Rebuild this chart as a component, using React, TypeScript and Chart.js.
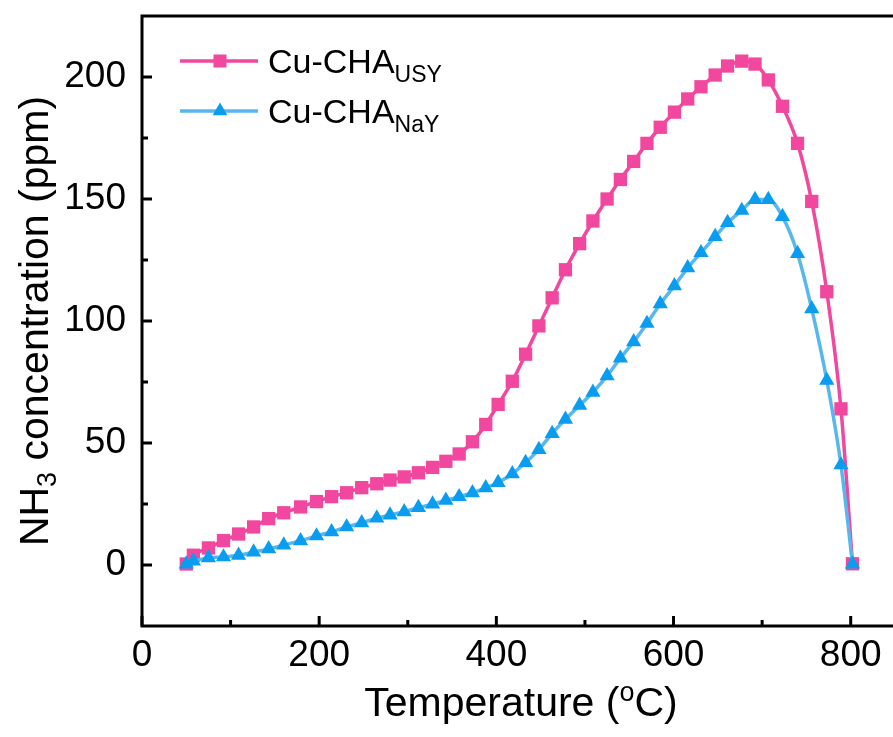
import { useEffect, useRef } from "react";
import { Chart, registerables } from "chart.js";

Chart.register(...registerables);

// ---- data ----
const temperatures = [
  50, 58, 75, 92, 109, 126, 143, 160, 179, 197, 214, 231, 248, 265, 280, 296,
  312, 328, 343, 358, 373, 388, 402, 418, 433, 448, 463, 478, 494, 509, 525,
  540, 555, 570, 585, 601, 616, 631, 647, 661, 677, 692, 707, 723, 740, 756,
  773, 789, 802,
];
const concUSY = [
  0.4, 4, 7, 10, 12.7, 15.6, 19, 21.4, 23.8, 26, 28, 29.6, 31.7, 33.3, 34.8,
  36.1, 37.8, 40, 42.5, 45.5, 50.5, 57.6, 65.8, 75.3, 86.4, 98, 109.5, 121,
  131.7, 141, 150, 158, 165.4, 172.8, 179.4, 185.6, 191, 196, 200.8, 204.5,
  206.5, 205.3, 198.8, 188, 172.8, 149, 112, 64, 0.5,
];
const concNaY = [
  0.4, 1.6, 2.9, 3.3, 4, 5.3, 6.6, 8.2, 9.9, 11.9, 13.6, 15.6, 17.3, 19.2,
  20.5, 21.8, 23.5, 25, 26.5, 28, 29.6, 31.6, 33.8, 37.4, 42, 47.3, 53.9, 59.7,
  65.4, 70.8, 77.5, 84.8, 91.5, 99, 107, 114.4, 121.8, 128, 134.6, 140.3,
  145.3, 149.8, 149.8, 142.8, 127.6, 105, 75.7, 41, 0.4,
];
const seriesBase = ["Cu-CHA", "Cu-CHA"];
const seriesSub = ["USY", "NaY"];
const xTicks = [0, 200, 400, 600, 800];
const xMinorTicks = [100, 300, 500, 700];
const yTicks = [0, 50, 100, 150, 200];
const yMinorTicks = [25, 75, 125, 175];

const FONT = '"Liberation Sans", Arial, Helvetica, sans-serif';
const PINK = "#F2479F";
const BLUE_LINE = "#58B7EC";
const BLUE_MARK = "#0A9DEF";

function drawRich(
  ctx: CanvasRenderingContext2D,
  parts: { t: string; size: number; dy: number }[],
  x: number,
  y: number,
  align: "left" | "center"
) {
  let total = 0;
  for (const p of parts) {
    ctx.font = `${p.size}px ${FONT}`;
    total += ctx.measureText(p.t).width;
  }
  let cx = align === "center" ? x - total / 2 : x;
  ctx.textAlign = "left";
  ctx.textBaseline = "alphabetic";
  for (const p of parts) {
    ctx.font = `${p.size}px ${FONT}`;
    ctx.fillText(p.t, cx, y + p.dy);
    cx += ctx.measureText(p.t).width;
  }
}

const decorPlugin = {
  id: "decor",
  afterDraw(chart: any) {
    const { ctx, chartArea: a, scales } = chart;
    const xs = scales.x;
    const ys = scales.y;
    ctx.save();
    ctx.strokeStyle = "#000";
    ctx.fillStyle = "#000";
    ctx.lineCap = "butt";
    // frame
    ctx.lineWidth = 3;
    ctx.strokeRect(a.left, a.top, a.right - a.left, a.bottom - a.top);
    // inner ticks
    const seg = (x1: number, y1: number, x2: number, y2: number) => {
      ctx.beginPath();
      ctx.moveTo(x1, y1);
      ctx.lineTo(x2, y2);
      ctx.stroke();
    };
    ctx.lineWidth = 3;
    xTicks.forEach((v) => {
      const p = xs.getPixelForValue(v);
      seg(p, a.bottom, p, a.bottom - 10);
    });
    xMinorTicks.forEach((v) => {
      const p = xs.getPixelForValue(v);
      seg(p, a.bottom, p, a.bottom - 6);
    });
    yTicks.forEach((v) => {
      const p = ys.getPixelForValue(v);
      seg(a.left, p, a.left + 10, p);
    });
    yMinorTicks.forEach((v) => {
      const p = ys.getPixelForValue(v);
      seg(a.left, p, a.left + 6, p);
    });

    // x title
    drawRich(
      ctx,
      [
        { t: "Temperature (", size: 41, dy: 0 },
        { t: "o", size: 27, dy: -15 },
        { t: "C)", size: 41, dy: 0 },
      ],
      521,
      716,
      "center"
    );

    // y title (rotated)
    ctx.save();
    ctx.translate(48, (a.top + a.bottom) / 2);
    ctx.rotate(-Math.PI / 2);
    drawRich(
      ctx,
      [
        { t: "NH", size: 41, dy: 0 },
        { t: "3", size: 27, dy: 8 },
        { t: " concentration (ppm)", size: 41, dy: 0 },
      ],
      0,
      0,
      "center"
    );
    ctx.restore();

    // legend
    const legendRows = [
      { y: 61, line: PINK, mark: PINK, shape: "rect" },
      { y: 111, line: BLUE_LINE, mark: BLUE_MARK, shape: "tri" },
    ];
    legendRows.forEach((r, i) => {
      ctx.strokeStyle = r.line;
      ctx.lineWidth = 3.5;
      seg(180, r.y, 258, r.y);
      ctx.fillStyle = r.mark;
      if (r.shape === "rect") {
        ctx.fillRect(220 - 6.5, r.y - 6.5, 13, 13);
      } else {
        const rr = 8.5;
        ctx.beginPath();
        ctx.moveTo(220, r.y - rr);
        ctx.lineTo(220 + rr * Math.sin((2 * Math.PI) / 3), r.y + rr / 2);
        ctx.lineTo(220 - rr * Math.sin((2 * Math.PI) / 3), r.y + rr / 2);
        ctx.closePath();
        ctx.fill();
      }
      ctx.fillStyle = "#000";
      drawRich(
        ctx,
        [
          { t: seriesBase[i], size: 34, dy: 0 },
          { t: seriesSub[i], size: 23, dy: 9 },
        ],
        268,
        r.y + 12,
        "left"
      );
    });
    ctx.restore();
  },
};

export default function App() {
  const ref = useRef<HTMLCanvasElement | null>(null);
  useEffect(() => {
    if (!ref.current) return;
    const toPts = (ys: number[]) => temperatures.map((x, i) => ({ x, y: ys[i] }));
    const chart = new Chart(ref.current, {
      type: "line",
      data: {
        datasets: [
          {
            label: seriesBase[0] + seriesSub[0],
            data: toPts(concUSY),
            borderColor: PINK,
            backgroundColor: PINK,
            pointBackgroundColor: PINK,
            pointBorderWidth: 0,
            pointStyle: "rect",
            pointRadius: 9.4,
            borderWidth: 3.5,
            cubicInterpolationMode: "monotone",
            order: 1,
          },
          {
            label: seriesBase[1] + seriesSub[1],
            data: toPts(concNaY),
            borderColor: BLUE_LINE,
            backgroundColor: BLUE_MARK,
            pointBackgroundColor: BLUE_MARK,
            pointBorderWidth: 0,
            pointStyle: "triangle",
            pointRadius: 8.8,
            borderWidth: 3.5,
            cubicInterpolationMode: "monotone",
            order: 0,
          },
        ],
      },
      options: {
        animation: false,
        responsive: false,
        devicePixelRatio: 1,
        layout: {
          autoPadding: false,
          padding: { left: 0, right: 5, top: 16, bottom: 0 },
        },
        plugins: { legend: { display: false }, tooltip: { enabled: false } },
        scales: {
          x: {
            type: "linear",
            min: 0,
            max: 850,
            grid: { display: false, drawTicks: false },
            border: { display: false },
            afterBuildTicks: (s: any) => {
              s.ticks = xTicks.map((v) => ({ value: v }));
            },
            afterFit: (s: any) => {
              s.height = 111;
              s.paddingLeft = 0;
              s.paddingRight = 0;
              s.paddingTop = 0;
              s.paddingBottom = 0;
            },
            ticks: {
              color: "#000",
              padding: 8,
              maxRotation: 0,
              font: { family: FONT, size: 37 },
            },
          },
          y: {
            type: "linear",
            min: -25,
            max: 225,
            grid: { display: false, drawTicks: false },
            border: { display: false },
            afterBuildTicks: (s: any) => {
              s.ticks = yTicks.map((v) => ({ value: v }));
            },
            afterFit: (s: any) => {
              s.width = 142;
              s.paddingLeft = 0;
              s.paddingRight = 0;
              s.paddingTop = 0;
              s.paddingBottom = 0;
            },
            ticks: {
              color: "#000",
              padding: 16,
              font: { family: FONT, size: 37 },
            },
          },
        },
      },
      plugins: [decorPlugin],
    });
    return () => chart.destroy();
  }, []);
  return (
    <div
      style={{
        position: "absolute",
        left: 0,
        top: 0,
        width: 893,
        height: 737,
        overflow: "hidden",
        background: "#fff",
      }}
    >
      <canvas ref={ref} width={900} height={737} style={{ display: "block" }} />
    </div>
  );
}
